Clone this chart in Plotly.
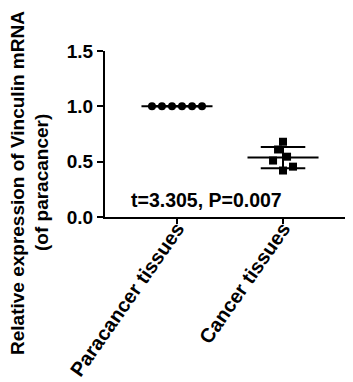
import numpy as np
import plotly.graph_objects as go

categories = ["Paracancer tissues", "Cancer tissues"]
paracancer = [1.0, 1.0, 1.0, 1.0, 1.0, 1.0]
cancer = [0.68, 0.61, 0.545, 0.51, 0.42, 0.455]
y_ticks = [0.0, 0.5, 1.0, 1.5]
stat_text = "t=3.305, P=0.007"
y_title_lines = ["Relative expression of Vinculin mRNA", "(of paracancer)"]

# horizontal scatter offsets (category units)
para_jitter = [-0.236, -0.142, -0.047, 0.047, 0.142, 0.236]
cancer_jitter = [0.0, -0.047, 0.038, -0.094, 0.0, 0.094]

FONT = "Arial, Liberation Sans, sans-serif"
fig = go.Figure()

fig.add_trace(go.Scatter(
    x=[0 + j for j in para_jitter], y=paracancer, mode="markers",
    marker=dict(symbol="circle", size=8, color="black"), showlegend=False))
fig.add_trace(go.Scatter(
    x=[1 + j for j in cancer_jitter], y=cancer, mode="markers",
    marker=dict(symbol="square", size=8, color="black"), showlegend=False))

for i, vals in enumerate([paracancer, cancer]):
    m = float(np.mean(vals))
    sd = float(np.std(vals, ddof=1))
    fig.add_shape(type="line", xref="x", yref="y", x0=i - 0.335, x1=i + 0.335,
                  y0=m, y1=m, line=dict(color="black", width=2))
    for v in (m - sd, m + sd):
        fig.add_shape(type="line", xref="x", yref="y", x0=i - 0.21, x1=i + 0.21,
                      y0=v, y1=v, line=dict(color="black", width=2))
    fig.add_shape(type="line", xref="x", yref="y", x0=i, x1=i,
                  y0=m - sd, y1=m + sd, line=dict(color="black", width=2))

fig.add_annotation(x=0.275, y=0.155, xref="x", yref="y", text="<b>" + stat_text + "</b>",
                   showarrow=False, font=dict(family=FONT, size=19.5, color="black"),
                   xanchor="center", yanchor="middle")

# page body has an 8px default margin; plot area is placed to match reference pixels
for line_text, px in zip(y_title_lines, [17, 41]):
    fig.add_annotation(x=(px - 105) / 248, y=(217 - 183) / 166, xref="paper", yref="paper",
                       text="<b>%s</b>" % line_text,
                       textangle=-90, showarrow=False, xanchor="center", yanchor="middle",
                       font=dict(family=FONT, size=19, color="black"))

fig.update_layout(
    width=353, height=382,
    margin=dict(l=97, r=8, t=43, b=173, autoexpand=False),
    paper_bgcolor="white", plot_bgcolor="white",
    font=dict(family=FONT, color="black"),
    xaxis=dict(range=[-0.679, 1.66], tickvals=[0, 1], ticktext=["<b>%s</b>" % c for c in categories],
               tickangle=-55, ticks="outside", ticklen=5, tickwidth=2, tickcolor="black",
               ticklabelstandoff=-15,
               showline=True, linewidth=2, linecolor="black", showgrid=False, zeroline=False,
               automargin=False, tickfont=dict(family=FONT, size=20, color="black")),
    yaxis=dict(range=[0, 1.5], tickvals=y_ticks, ticktext=["<b>%.1f</b>" % v for v in y_ticks],
               ticks="outside", ticklen=6, tickwidth=2, tickcolor="black",
               showline=True, linewidth=2, linecolor="black", showgrid=False, zeroline=False,
               automargin=False, tickfont=dict(family=FONT, size=19, color="black")),
)

fig.write_html("out.html")
